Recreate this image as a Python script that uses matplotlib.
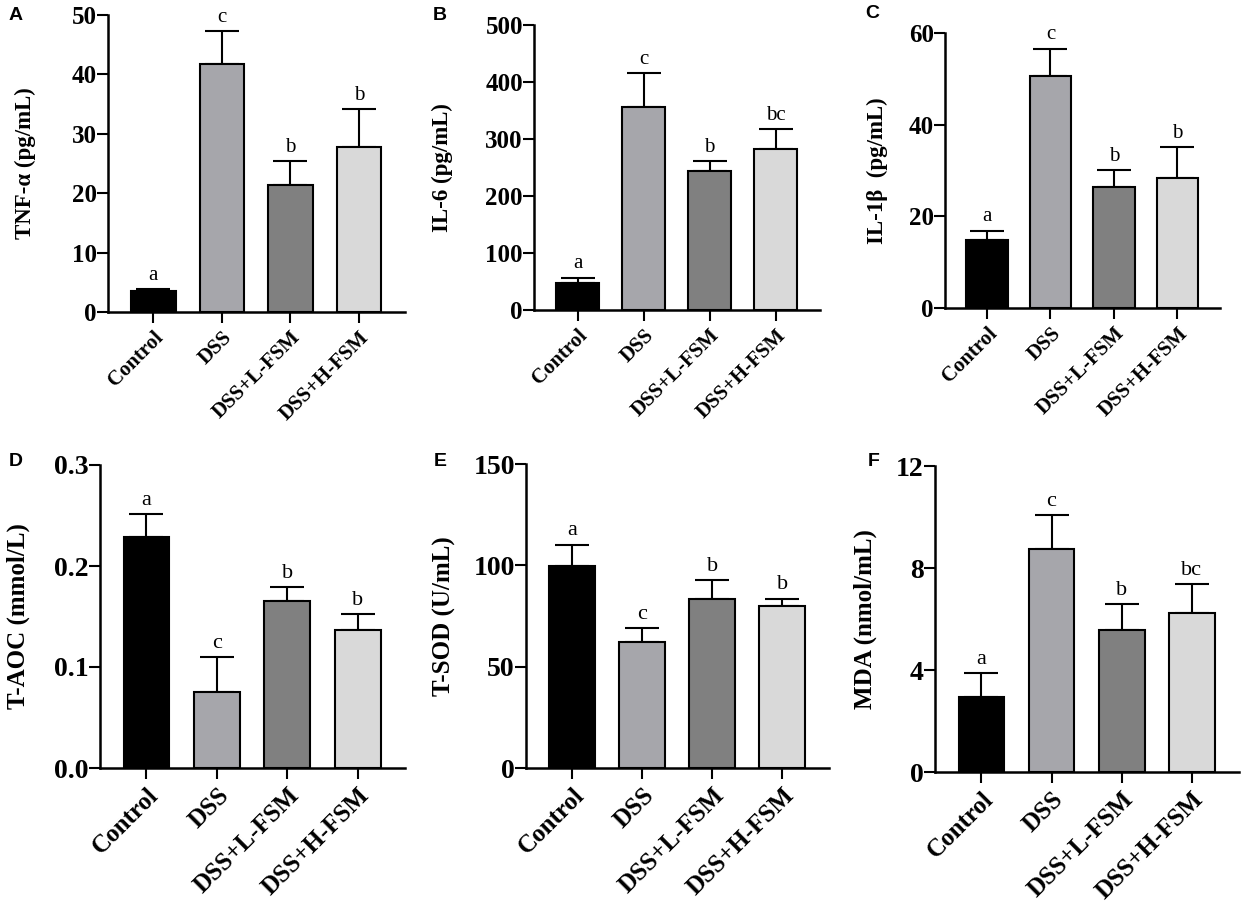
import matplotlib
matplotlib.use("Agg")
import matplotlib.pyplot as plt
import numpy as np

plt.rcParams['font.family'] = ['Liberation Serif', 'DejaVu Serif']

groups = ["Control", "DSS", "DSS+L-FSM", "DSS+H-FSM"]
bar_colors = ["#000000", "#a6a6ab", "#808080", "#d9d9d9"]

tnf_mean = [3.6, 41.7, 21.4, 27.7]
tnf_err = [0.3, 5.6, 4.0, 6.5]
tnf_letters = ["a", "c", "b", "b"]

il6_mean = [48, 356, 244, 282]
il6_err = [9, 60, 17, 36]
il6_letters = ["a", "c", "b", "bc"]

il1b_mean = [14.9, 50.7, 26.5, 28.4]
il1b_err = [2.0, 5.9, 3.5, 6.7]
il1b_letters = ["a", "c", "b", "b"]

taoc_mean = [0.229, 0.075, 0.165, 0.137]
taoc_err = [0.022, 0.035, 0.014, 0.015]
taoc_letters = ["a", "c", "b", "b"]

tsod_mean = [99.8, 62.3, 83.4, 79.8]
tsod_err = [10.4, 6.6, 9.5, 3.8]
tsod_letters = ["a", "c", "b", "b"]

mda_mean = [2.96, 8.75, 5.57, 6.24]
mda_err = [0.92, 1.34, 1.0, 1.13]
mda_letters = ["a", "c", "b", "bc"]

W, H = 1248, 907
fig = plt.figure(figsize=(W / 100, H / 100), dpi=100)

panels = [
    # letter, mean, err, letters, ylabel, yticks, ticklabels, rect px (l, r, t, b), label_x px, letter pos px, row
    ("A", tnf_mean, tnf_err, tnf_letters, "TNF-α (pg/mL)", [0, 10, 20, 30, 40, 50], None,
     (108, 405, 15, 312), 25, (16, 15), 0),
    ("B", il6_mean, il6_err, il6_letters, "IL-6 (pg/mL)", [0, 100, 200, 300, 400, 500], None,
     (534, 820, 25, 310), 442, (440, 15), 0),
    ("C", il1b_mean, il1b_err, il1b_letters, "IL-1β  (pg/mL)", [0, 20, 40, 60], None,
     (945, 1220, 33, 308), 877, (872, 14), 0),
    ("D", taoc_mean, taoc_err, taoc_letters, "T-AOC (mmol/L)", [0.0, 0.1, 0.2, 0.3],
     ["0.0", "0.1", "0.2", "0.3"], (100, 405, 465, 768), 18, (16, 461), 1),
    ("E", tsod_mean, tsod_err, tsod_letters, "T-SOD (U/mL)", [0, 50, 100, 150], None,
     (526, 829, 464, 768), 444, (440, 461), 1),
    ("F", mda_mean, mda_err, mda_letters, "MDA (nmol/mL)", [0, 4, 8, 12], None,
     (935, 1239, 466, 772), 865, (874, 461), 1),
]

for (plet, mean, err, lets, ylabel, yticks, ytl, rect, labx, letpos, row) in panels:
    l, r, t, b = rect
    ax = fig.add_axes([l / W, 1 - b / H, (r - l) / W, (b - t) / H])
    x = np.arange(len(groups))
    ax.bar(x, mean, width=0.65, color=bar_colors, edgecolor='black', linewidth=1.5, zorder=2)
    ax.errorbar(x, mean, yerr=[np.zeros(len(mean)), err], fmt='none', ecolor='black',
                elinewidth=1.5, capsize=12, capthick=1.5, zorder=1)
    fs_let = 15 if row == 0 else 16
    for i, (m, e, s) in enumerate(zip(mean, err, lets)):
        ax.annotate(s, (i, m + e), xytext=(0, 3), textcoords='offset points',
                    ha='center', va='bottom', fontsize=fs_let)
    ax.set_xlim(-0.66, 3.67)
    ax.set_ylim(0, yticks[-1])
    ax.set_yticks(yticks)
    if ytl is not None:
        ax.set_yticklabels(ytl)
    ax.set_xticks(x)
    fs_x = 15 if row == 0 else 18
    ax.set_xticklabels(groups, rotation=45, ha='right', rotation_mode='anchor',
                       fontsize=fs_x, fontweight='bold')
    fs_y = 18 if row == 0 else 20
    for lab in ax.get_yticklabels():
        lab.set_fontsize(fs_y)
        lab.set_fontweight('bold')
    for s in ['top', 'right']:
        ax.spines[s].set_visible(False)
    for s in ['left', 'bottom']:
        ax.spines[s].set_linewidth(1.8)
    ax.tick_params(axis='y', direction='out', length=8, width=1.5, pad=0)
    ax.tick_params(axis='x', direction='out', length=8, width=1.5, pad=3)
    fs_yl = 16.5 if row == 0 else 18
    fig.text(labx / W, 1 - ((t + b) / 2) / H, ylabel, rotation=90, ha='center', va='center',
             fontsize=fs_yl, fontweight='bold')
    fig.text(letpos[0] / W, 1 - letpos[1] / H, plet, ha='center', va='center',
             fontsize=14, fontweight='bold', family=['Liberation Sans', 'DejaVu Sans'])

fig.savefig("out.png", dpi=100)
